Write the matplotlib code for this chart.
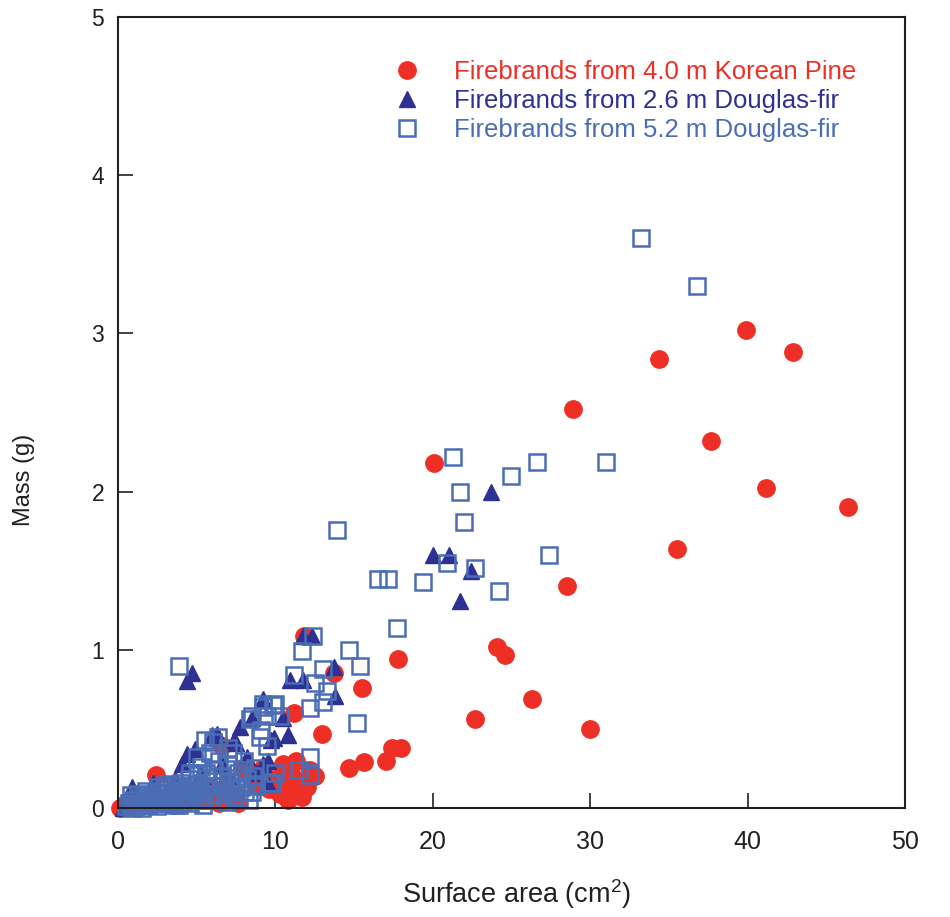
import matplotlib.pyplot as plt

plt.rcParams['font.family'] = ['Liberation Sans', 'DejaVu Sans']
plt.rcParams['mathtext.fontset'] = 'custom'
plt.rcParams['mathtext.rm'] = 'Liberation Sans'

# Korean Pine, 4.0 m (red circles)
pine_x = [0.1, 0.3, 0.6, 1.0, 1.5, 2.0, 2.4, 2.8, 3.3, 3.5, 4.0, 4.6, 5.2, 5.6, 6.1, 6.4,
          6.6, 6.9, 7.2, 7.6, 7.9, 8.3, 8.8, 9.2, 9.6, 10.0, 10.3, 10.5, 10.7, 10.8, 10.9,
          11.0, 11.1, 11.3, 11.5, 11.7, 12.0, 12.2, 12.5, 11.2, 12.96, 11.8, 13.7, 15.5,
          17.8, 14.7, 15.6, 17.0, 17.4, 18.0, 22.7, 26.3, 30.0, 24.1, 24.6, 28.5, 35.5,
          20.1, 28.9, 34.4, 39.9, 42.9, 37.7, 41.2, 46.4]
pine_y = [0.0, 0.01, 0.02, 0.01, 0.03, 0.02, 0.21, 0.05, 0.04, 0.02, 0.08, 0.06, 0.10, 0.05,
          0.12, 0.03, 0.39, 0.16, 0.08, 0.03, 0.25, 0.22, 0.14, 0.25, 0.12, 0.18, 0.09, 0.28,
          0.15, 0.05, 0.07, 0.22, 0.10, 0.30, 0.17, 0.07, 0.13, 0.24, 0.20, 0.60, 0.47, 1.09,
          0.85, 0.76, 0.94, 0.25, 0.29, 0.30, 0.38, 0.38, 0.56, 0.69, 0.50, 1.02, 0.97, 1.40,
          1.64, 2.18, 2.52, 2.84, 3.02, 2.88, 2.32, 2.02, 1.90]

# Douglas-fir, 2.6 m (navy triangles)
df26_x = [0.3, 0.9, 1.5, 2.2, 2.7, 3.2, 3.6, 4.05, 4.4, 4.4, 4.7, 4.9, 5.3, 5.6, 6.0, 6.3,
          6.6, 7.0, 7.4, 7.5, 7.75, 8.2, 8.5, 8.8, 9.2, 9.2, 9.5, 9.5, 9.7, 9.9, 10.5, 10.8,
          10.9, 11.75, 11.75, 12.3, 13.7, 13.8, 20.0, 21.0, 22.4, 21.7, 23.7]
df26_y = [0.0, 0.13, 0.05, 0.16, 0.08, 0.12, 0.18, 0.28, 0.34, 0.80, 0.85, 0.37, 0.22, 0.15,
          0.46, 0.47, 0.28, 0.20, 0.43, 0.41, 0.51, 0.32, 0.57, 0.22, 0.69, 0.28, 0.15, 0.30,
          0.43, 0.44, 0.57, 0.46, 0.81, 0.81, 1.09, 1.09, 0.89, 0.71, 1.60, 1.60, 1.50, 1.31,
          2.00]

# Douglas-fir, 5.2 m (open squares)
df52_x = [0.5, 0.7, 0.9, 1.0, 1.2, 1.4, 1.5, 1.7, 1.9, 2.0, 2.2, 2.4, 2.5, 2.7, 2.9, 3.0,
          3.2, 3.4, 3.5, 3.7, 3.9, 4.0, 4.2, 4.3, 4.5, 4.6, 4.8, 5.0, 5.0, 5.1, 5.3, 5.5,
          5.5, 5.7, 5.85, 5.9, 6.05, 6.1, 6.2, 6.35, 6.5, 6.6, 6.8, 7.0, 7.1, 7.3, 7.4, 7.6,
          7.8, 8.0, 8.2, 8.4, 8.5, 8.5, 8.7, 9.0, 9.1, 9.2, 9.2, 9.45, 9.45, 9.65, 9.8,
          9.85, 10.0, 10.3, 10.0, 11.2, 11.7, 12.4, 12.5, 13.0, 13.3, 13.0, 12.2, 15.2,
          14.7, 15.4, 12.2, 11.5, 12.2, 3.9, 13.9, 16.5, 17.15, 19.4, 17.7, 20.9, 22.7,
          27.4, 24.2, 22.0, 21.7, 21.3, 25.0, 26.6, 31.0, 33.2, 36.8,
          0.8, 1.1, 1.3, 1.6, 1.8, 2.1, 2.3, 2.6, 2.8, 3.1, 3.3, 3.6, 3.8, 4.1, 4.4, 4.7,
          4.9, 5.2, 5.4, 5.6, 5.8, 6.0, 6.3, 6.7, 6.9, 7.2, 7.5, 7.7, 7.9, 8.1, 8.3, 8.6,
          8.8, 6.4, 7.0, 5.3, 4.6]
df52_y = [0.01, 0.03, 0.0, 0.05, 0.02, 0.06, 0.0, 0.04, 0.08, 0.02, 0.05, 0.10, 0.01, 0.07,
          0.12, 0.03, 0.09, 0.14, 0.05, 0.11, 0.02, 0.16, 0.07, 0.12, 0.18, 0.03, 0.10, 0.15,
          0.32, 0.21, 0.06, 0.13, 0.43, 0.19, 0.35, 0.09, 0.42, 0.24, 0.14, 0.45, 0.05, 0.20,
          0.11, 0.27, 0.16, 0.35, 0.07, 0.22, 0.13, 0.30, 0.18, 0.56, 0.10, 0.58, 0.25, 0.45,
          0.49, 0.64, 0.66, 0.39, 0.58, 0.16, 0.16, 0.65, 0.66, 0.58, 0.22, 0.84, 0.99, 1.09,
          0.79, 0.88, 0.74, 0.67, 0.63, 0.54, 1.00, 0.90, 0.32, 0.24, 0.21, 0.90, 1.76, 1.45,
          1.45, 1.43, 1.14, 1.55, 1.52, 1.60, 1.37, 1.81, 2.00, 2.22, 2.10, 2.19, 2.19, 3.60,
          3.30,
          0.08, 0.01, 0.09, 0.02, 0.11, 0.07, 0.03, 0.13, 0.04, 0.15, 0.06, 0.02, 0.14, 0.04,
          0.08, 0.14, 0.05, 0.11, 0.02, 0.22, 0.05, 0.17, 0.09, 0.14, 0.04, 0.12, 0.19, 0.06,
          0.24, 0.10, 0.05, 0.20, 0.14, 0.30, 0.38, 0.26, 0.22]

labels = ["Firebrands from 4.0 m Korean Pine",
          "Firebrands from 2.6 m Douglas-fir",
          "Firebrands from 5.2 m Douglas-fir"]
red = "#ED2F25"
navy = "#2E3192"
blue = "#4A6DB6"
axis_col = "#231F20"

fig = plt.figure(figsize=(9.5, 9.17), dpi=100)
ax = fig.add_axes([0.1242, 0.1189, 0.8284, 0.8626])

ax.plot(pine_x, pine_y, "o", ms=12.5, color=red, mec=red, clip_on=False, label=labels[0])
ax.plot(df26_x, df26_y, "^", ms=12, color=navy, mec=navy, clip_on=False, label=labels[1])
ax.plot(df52_x, df52_y, "s", ms=11.5, mfc="none", mec=blue, mew=1.8, clip_on=False,
        label=labels[2])

ax.set_xlim(0, 50)
ax.set_ylim(0, 5)
ax.set_xticks([0, 10, 20, 30, 40, 50])
ax.set_yticks([0, 1, 2, 3, 4, 5])

for sp in ax.spines.values():
    sp.set_linewidth(1.5)
    sp.set_color(axis_col)

ax.tick_params(direction="in", length=11, width=1.2, color=axis_col, labelsize=16.5,
               labelcolor=axis_col)
ax.tick_params(axis="x", pad=16, labelsize=18)
ax.tick_params(axis="y", pad=10)

ax.set_xlabel("Surface area (cm$^{2}$)", fontsize=19.5, color=axis_col)
ax.set_ylabel("Mass (g)", fontsize=17, color=axis_col)
ax.xaxis.set_label_coords(0.506, -0.088)
ax.yaxis.set_label_coords(-0.105, 0.415)

ax.legend(loc="upper left", bbox_to_anchor=(0.338, 0.959), frameon=False, fontsize=18.5,
          handlelength=1.0, handletextpad=1.32, labelspacing=0.2, borderaxespad=0,
          labelcolor=[red, navy, blue])

plt.savefig("out.png")
